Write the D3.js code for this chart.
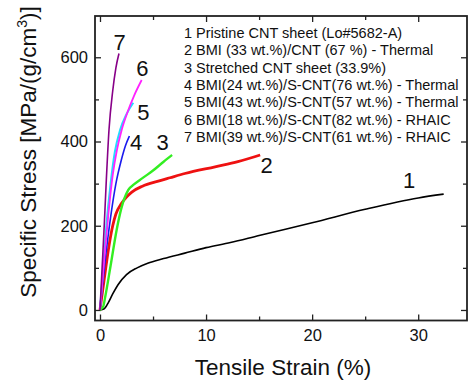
<!DOCTYPE html>
<html>
<head>
<meta charset="utf-8">
<script src="https://cdn.jsdelivr.net/npm/d3@7"></script>
<style>
  body { margin: 0; background: #fff; }
  svg { display: block; font-family: "Liberation Sans", Arial, sans-serif; }
  svg text { font-family: "Liberation Sans", Arial, sans-serif; }
</style>
</head>
<body>
<div id="chart"></div>
<script>
// stress-strain curves, [strain %, specific stress]
const curve1 = [[0,0],[0.4,3],[0.8,18],[1.2,38],[1.7,60],[2.5,84],[3.5,100],[4.5,111],[6,122],[8,135],[10,148],[12.3,160],[15,177],[20,207],[25,239],[30,266],[32.4,275]];
const curve2 = [[0,0],[0.3,55],[0.6,110],[0.9,160],[1.2,200],[1.5,228],[2.0,252],[2.5,268],[3.0,280],[4,294],[5.5,306],[6.6,314],[8,324],[10.85,340],[13,352],[15.1,368]];
const curve3 = [[0,0],[0.3,8],[0.5,32],[1.0,105],[1.57,190],[2.0,240],[2.67,285],[3.2,298],[4,313],[5,331],[6,352],[6.8,368]];
const curve4 = [[0,0],[0.5,120],[1.0,220],[1.5,300],[2.0,355],[2.4,390],[2.77,413]];
const curve5 = [[0,0],[0.3,100],[0.6,200],[1.0,300],[1.4,375],[1.9,428],[2.5,465],[3.14,492]];
const curve6 = [[0,0],[0.4,120],[0.8,230],[1.2,320],[1.6,380],[2.05,428],[2.6,470],[3.2,508],[3.93,546]];
const curve7 = [[0,0],[0.2,100],[0.4,200],[0.6,310],[0.85,428],[1.2,520],[1.5,575],[1.79,609]];

const curves = [curve1, curve2, curve3, curve4, curve5, curve6, curve7];
const curveColors = ["#000000", "#ee1111", "#33ee22", "#1a1aee", "#22ddff", "#ff22ff", "#880088"];
const curveWidths = [1.6, 2.8, 2.4, 1.6, 2, 1.8, 1.6];

const legendLabels = [
  "1 Pristine CNT sheet (Lo#5682-A)",
  "2 BMI (33 wt.%)/CNT (67 %) - Thermal",
  "3 Stretched CNT sheet (33.9%)",
  "4 BMI(24 wt.%)/S-CNT(76 wt.%) - Thermal",
  "5 BMI(43 wt.%)/S-CNT(57 wt.%) - Thermal",
  "6 BMI(18 wt.%)/S-CNT(82 wt.%) - RHAIC",
  "7 BMI(39 wt.%)/S-CNT(61 wt.%) - RHAIC"
];
// curve number labels next to the curve ends (data coords of the baseline centre)
const tagText = ["1", "2", "3", "4", "5", "6", "7"];
const tagPos = [[29.15, 290], [15.7, 325], [5.9, 380], [3.4, 380], [4.08, 451], [4.0, 556], [1.84, 618]];

const xMajor = [0, 10, 20, 30], xMinor = [5, 15, 25];
const yMajor = [0, 200, 400, 600], yMinor = [100, 300, 500];

const W = 469, H = 381;
const L = 95, R = 467, T = 16, B = 320.5;

const svg = d3.select("#chart").append("svg").attr("width", W).attr("height", H);

const x = d3.scaleLinear().domain([-0.47, 34.6]).range([L, R]);
const y = d3.scaleLinear().domain([-25, 698]).range([B, T]);

function axis(g, a) {
  g.call(a);
  g.attr("font-family", null).attr("font-size", null);
  g.select(".domain").remove();
  g.selectAll("line").attr("stroke", "#222").attr("stroke-width", 1.3);
  g.selectAll("text").attr("fill", "#111").style("font-size", "16.5px");
}

svg.append("g").attr("transform", `translate(0,${B})`)
  .call(g => axis(g, d3.axisBottom(x).tickValues(xMajor).tickSize(-6).tickPadding(9)));
svg.append("g").attr("transform", `translate(0,${B})`)
  .call(g => axis(g, d3.axisBottom(x).tickValues(xMinor).tickSize(-4).tickFormat("")));
svg.append("g").attr("transform", `translate(0,${T})`)
  .call(g => axis(g, d3.axisTop(x).tickValues(xMajor).tickSize(-6).tickFormat("")));
svg.append("g").attr("transform", `translate(0,${T})`)
  .call(g => axis(g, d3.axisTop(x).tickValues(xMinor).tickSize(-4).tickFormat("")));

svg.append("g").attr("transform", `translate(${L},0)`)
  .call(g => axis(g, d3.axisLeft(y).tickValues(yMajor).tickSize(-6).tickPadding(7)));
svg.append("g").attr("transform", `translate(${L},0)`)
  .call(g => axis(g, d3.axisLeft(y).tickValues(yMinor).tickSize(-4).tickFormat("")));
svg.append("g").attr("transform", `translate(${R},0)`)
  .call(g => axis(g, d3.axisRight(y).tickValues(yMajor).tickSize(-6).tickFormat("")));
svg.append("g").attr("transform", `translate(${R},0)`)
  .call(g => axis(g, d3.axisRight(y).tickValues(yMinor).tickSize(-4).tickFormat("")));

// frame
svg.append("rect")
  .attr("x", L).attr("y", T).attr("width", R - L).attr("height", B - T)
  .attr("fill", "none").attr("stroke", "#222").attr("stroke-width", 1.8);

const line = d3.line()
  .x(d => x(d[0]))
  .y(d => y(d[1]))
  .curve(d3.curveMonotoneX);

svg.append("g").selectAll("path")
  .data(curves)
  .enter().append("path")
  .attr("d", line)
  .attr("fill", "none")
  .attr("stroke", (d, i) => curveColors[i])
  .attr("stroke-width", (d, i) => curveWidths[i])
  .attr("stroke-linejoin", "round");

svg.append("g").selectAll("text")
  .data(tagText)
  .enter().append("text")
  .attr("x", (d, i) => x(tagPos[i][0]))
  .attr("y", (d, i) => y(tagPos[i][1]))
  .attr("text-anchor", "middle")
  .style("font-size", "22px")
  .attr("fill", "#111")
  .text(d => d);

// legend
svg.append("g").selectAll("text")
  .data(legendLabels)
  .enter().append("text")
  .attr("x", 184)
  .attr("y", (d, i) => 38 + i * 17.35)
  .style("font-size", "14.5px")
  .attr("fill", "#111")
  .text(d => d);

// axis titles
svg.append("text")
  .attr("x", 283).attr("y", 375)
  .attr("text-anchor", "middle")
  .style("font-size", "22.5px")
  .attr("fill", "#111")
  .text("Tensile Strain (%)");

const yt = svg.append("text")
  .attr("transform", "translate(36,152) rotate(-90)")
  .attr("text-anchor", "middle")
  .style("font-size", "22.5px")
  .attr("fill", "#111");
yt.append("tspan").text("Specific Stress [MPa/(g/cm");
yt.append("tspan").attr("dy", -9).style("font-size", "14px").text("3");
yt.append("tspan").attr("dy", 9).text(")]");
</script>
</body>
</html>
